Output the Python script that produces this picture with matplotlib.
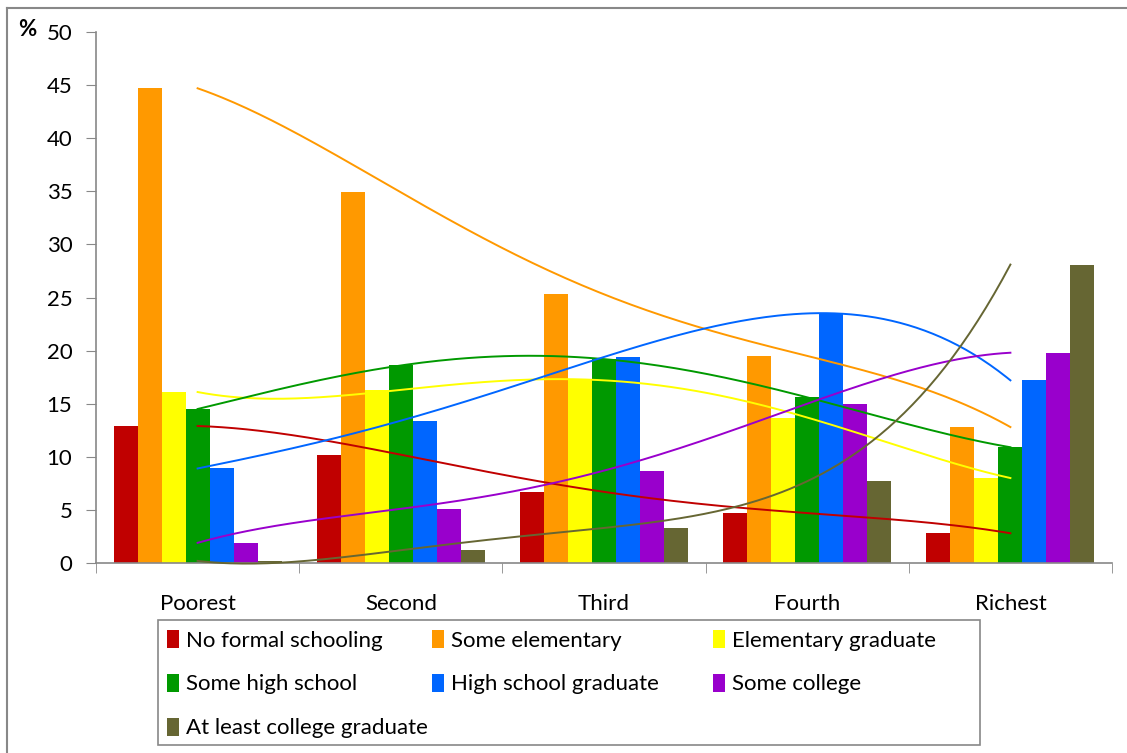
import numpy as np
import matplotlib
matplotlib.use("Agg")
import matplotlib.pyplot as plt
from matplotlib.lines import Line2D
from matplotlib.patches import Rectangle

plt.rcParams['font.family'] = ['Lato', 'DejaVu Sans']

groups = ['Poorest', 'Second', 'Third', 'Fourth', 'Richest']
series = ['No formal schooling', 'Some elementary', 'Elementary graduate',
          'Some high school', 'High school graduate', 'Some college',
          'At least college graduate']
colors = ['#C00000', '#FF9900', '#FFFF00', '#009900', '#0066FF', '#9900CC', '#666633']

no_formal = [12.9, 10.2, 6.7, 4.7, 2.8]
some_elem = [44.7, 34.9, 25.3, 19.5, 12.8]
elem_grad = [16.1, 16.3, 17.2, 13.7, 8.0]
some_hs = [14.5, 18.6, 19.2, 15.6, 10.9]
hs_grad = [8.9, 13.4, 19.4, 23.5, 17.2]
some_coll = [1.9, 5.1, 8.7, 15.0, 19.8]
coll_grad = [0.2, 1.2, 3.3, 7.7, 28.1]
values = [no_formal, some_elem, elem_grad, some_hs, hs_grad, some_coll, coll_grad]

fig = plt.figure(figsize=(11.27, 7.53), dpi=100)
ax = fig.add_axes([96/1127, 1-563/753, (1112-96)/1127, (563-32)/753])

x = np.arange(len(groups))
w = 0.118
handles = []
for i, (vals, c) in enumerate(zip(values, colors)):
    h = ax.bar(x + (i - 3) * w, vals, w, color=c, edgecolor='none', zorder=2)
    handles.append(h)

# polynomial trendlines (order 4) through group centres
xs = np.linspace(0, 4, 200)
for vals, c in zip(values, colors):
    p = np.polyfit(x, vals, 4)
    ax.plot(xs, np.polyval(p, xs), color=c, lw=1.4, zorder=3, clip_on=False)

ax.set_xlim(-0.5, 4.5)
ax.set_ylim(0, 50)
ax.set_yticks(range(0, 51, 5))
ax.set_xticks(x)
ax.set_xticklabels(groups)
ax.set_xticks(np.arange(-0.5, 4.6, 1), minor=True)
ax.tick_params(axis='x', which='major', length=0, pad=22, labelsize=16)
ax.tick_params(axis='x', which='minor', length=7, color='#888888', direction='out')
ax.tick_params(axis='y', length=7, color='#888888', labelsize=16, pad=10)
for s in ['top', 'right']:
    ax.spines[s].set_visible(False)
for s in ['left', 'bottom']:
    ax.spines[s].set_color('#888888')
    ax.spines[s].set_linewidth(1.2)

fig.text(18/1127, 1-30/753, '%', fontsize=16, fontweight='bold', va='center')

# legend laid out as three columns, rows filled left to right
cols = [[0, 3, 6], [1, 4], [2, 5]]
col_x = [167, 432, 713]
for idx, cx in zip(cols, col_x):
    fig.legend([handles[i] for i in idx], [series[i] for i in idx],
               loc='upper left', bbox_to_anchor=(cx/1127, 1-630/753),
               fontsize=16, frameon=False,
               handlelength=0.55, handleheight=0.85, handletextpad=0.3,
               labelspacing=1.05, borderpad=0, borderaxespad=0)
fig.add_artist(Rectangle((158/1127, 1-745/753), (980-158)/1127, 125/753, transform=fig.transFigure,
                         fill=False, edgecolor='#888888', lw=1.2))

# outer border
fig.add_artist(Line2D([7/1127, 7/1127], [0, 1-8/753], color='#888888', lw=1.5))
fig.add_artist(Line2D([7/1127, 1], [1-8/753, 1-8/753], color='#888888', lw=1.5))

fig.savefig('out.png', dpi=100)
